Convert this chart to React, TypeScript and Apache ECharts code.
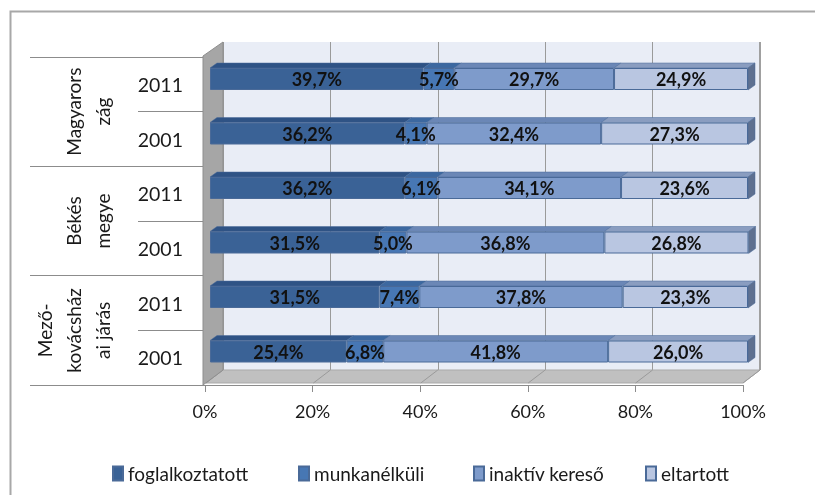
import React, { useEffect, useRef } from "react";
import * as echarts from "echarts";

const groups = ["Magyarország", "Békés megye", "Mezőkovácsházai járás"];
const groupLabels = ["Magyarors\nzág", "Békés\nmegye", "Mező-\nkovácsház\nai járás"];
const rowKeys = [
  "Magyarország 2011",
  "Magyarország 2001",
  "Békés megye 2011",
  "Békés megye 2001",
  "Mezőkovácsházai járás 2011",
  "Mezőkovácsházai járás 2001",
];
const seriesNames = ["foglalkoztatott", "munkanélküli", "inaktív kereső", "eltartott"];
const foglalkoztatott = [39.7, 36.2, 36.2, 31.5, 31.5, 25.4];
const munkanelkuli = [5.7, 4.1, 6.1, 5.0, 7.4, 6.8];
const inaktivKereso = [29.7, 32.4, 34.1, 36.8, 37.8, 41.8];
const eltartott = [24.9, 27.3, 23.6, 26.8, 23.3, 26.0];
const xTicks = [0, 20, 40, 60, 80, 100];

const frontColors = ["#3a6296", "#4777b4", "#7e9bcb", "#b9c6e1"];
const topColors = ["#2f5385", "#3c68a0", "#6b87b6", "#8a9dc0"];
const sideColor = "#5e7090";
const FONT = "Lato, 'Liberation Sans', sans-serif";

export default function App() {
  const ref = useRef<HTMLDivElement>(null);
  useEffect(() => {
    if (!ref.current) return;
    const chart = echarts.init(ref.current, undefined, { renderer: "svg" });
    const all = [foglalkoztatott, munkanelkuli, inaktivKereso, eltartott];
    const faces: number[][] = [];
    rowKeys.forEach((_, r) => {
      let acc = 0;
      all.forEach((arr, k) => {
        faces.push([acc, acc + arr[r], r, k]);
        acc += arr[r];
      });
    });
    const fmt = (p: any) => Number(p.value).toFixed(1).replace(".", ",") + "%";

    const backL = 223, backR = 760, backT = 42, backB = 370;
    const frontL = 205, frontR = 743, frontB = 385;
    const floorLines = xTicks.map((t) => ({
      type: "line",
      z: 1,
      shape: {
        x1: backL + ((backR - backL) * t) / 100,
        y1: backB,
        x2: frontL + 1 + ((frontR - frontL - 1) * t) / 100,
        y2: frontB - 2,
      },
      style: { stroke: "#9a9a9a", lineWidth: 1 },
    }));

    chart.setOption({
      animation: false,
      textStyle: { fontFamily: FONT },
      graphic: [
        {
          type: "rect",
          z: 0,
          shape: { x: 10.5, y: 11.5, width: 900, height: 600 },
          style: { fill: "none", stroke: "#a8a8a8", lineWidth: 2 },
        },
        {
          type: "polygon",
          z: 1,
          shape: { points: [[backL, backB], [backR, backB], [frontR, frontB - 2], [frontL + 1, frontB - 2]] },
          style: { fill: "#c0c0c0", stroke: "#a9a9a9", lineWidth: 1 },
        },
        ...floorLines,
        {
          type: "polygon",
          z: 1,
          shape: { points: [[203, 56], [backL, backT], [backL, backB], [203, frontB]] },
          style: { fill: "#a6a6a6", stroke: "#8e8e8e", lineWidth: 1 },
        },
        {
          type: "line",
          z: 1,
          shape: { x1: backR, y1: backT, x2: backR, y2: backB },
          style: { stroke: "#a0a0a0", lineWidth: 2 },
        },
      ],
      legend: seriesNames.map((n, i) => ({
        data: [n],
        left: [107, 293, 468, 640][i],
        top: 459,
        itemWidth: 10,
        itemHeight: 14,
        icon: "rect",
        textStyle: { fontSize: 19, color: "#1a1a1a", fontFamily: FONT },
        selectedMode: false,
      })),
      grid: [
        { left: 210, right: 67, top: 51.75, bottom: 116.25 },
        { left: backL, right: 815 - backR, top: backT, bottom: 495 - backB, show: true, backgroundColor: "#e9edf6", borderWidth: 0 },
        { left: frontL, right: 815 - frontR, top: 57, bottom: 495 - frontB },
      ],
      xAxis: [
        { type: "value", gridIndex: 0, min: 0, max: 100, interval: 20, show: false },
        {
          type: "value",
          gridIndex: 1,
          min: 0,
          max: 100,
          interval: 20,
          axisLine: { show: false },
          axisTick: { show: false },
          axisLabel: { show: false },
          splitLine: { show: true, lineStyle: { color: "#9a9a9a", width: 1 } },
        },
        {
          type: "value",
          gridIndex: 2,
          min: 0,
          max: 100,
          interval: 20,
          axisLine: { show: true, lineStyle: { color: "#8c8c8c" } },
          axisTick: { show: true, length: 7, lineStyle: { color: "#8c8c8c" } },
          axisLabel: { formatter: "{value}%", margin: 17, fontSize: 18, color: "#1a1a1a", fontFamily: FONT },
          splitLine: { show: false },
        },
      ],
      yAxis: [
        { type: "category", gridIndex: 0, inverse: true, data: rowKeys, show: false },
        { type: "category", gridIndex: 1, inverse: true, data: rowKeys, show: false },
        {
          type: "category",
          gridIndex: 2,
          inverse: true,
          data: rowKeys,
          position: "left",
          axisLine: { show: false },
          axisTick: { show: true, length: 67, interval: 0, lineStyle: { color: "#8c8c8c" } },
          axisLabel: {
            interval: 0,
            margin: 22,
            fontSize: 19.5,
            color: "#1a1a1a",
            fontFamily: FONT,
            formatter: (v: string) => v.split(" ").pop(),
          },
        },
        {
          type: "category",
          gridIndex: 2,
          inverse: true,
          data: groups,
          position: "left",
          offset: 0,
          axisLine: { show: false },
          axisTick: { show: true, length: 175, interval: 0, lineStyle: { color: "#8c8c8c" } },
          axisLabel: {
            interval: 0,
            rotate: 90,
            align: "center",
            verticalAlign: "bottom",
            margin: 88,
            lineHeight: 29,
            fontSize: 19,
            color: "#1a1a1a",
            fontFamily: FONT,
            formatter: (_v: string, i: number) => groupLabels[i],
          },
        },
      ],
      series: [
        ...all.map((arr, k) => ({
          name: seriesNames[k],
          type: "bar",
          stack: "total",
          xAxisIndex: 0,
          yAxisIndex: 0,
          barWidth: 22,
          z: 3,
          data: arr,
          itemStyle: { color: frontColors[k], borderColor: "#4a6a98", borderWidth: 1 },
          label: {
            show: true,
            position: "inside",
            formatter: fmt,
            fontWeight: "bold",
            fontSize: 18,
            color: "#111",
            fontFamily: FONT,
          },
        })),
        {
          type: "custom",
          xAxisIndex: 0,
          yAxisIndex: 0,
          z: 4,
          silent: true,
          encode: { x: [0, 1], y: 2 },
          data: faces,
          renderItem: (_params: any, api: any) => {
            const s = api.value(0);
            const e = api.value(1);
            const r = api.value(2);
            const k = api.value(3);
            const a = api.coord([s, r]);
            const b = api.coord([e, r]);
            const h = 22;
            const dx = 7;
            const dy = 5;
            const top = a[1] - h / 2;
            const children: any[] = [
              {
                type: "polygon",
                shape: { points: [[a[0], top], [b[0], top], [b[0] + dx, top - dy], [a[0] + dx, top - dy]] },
                style: { fill: topColors[k], stroke: "#4a6a98", lineWidth: 0.5 },
              },
            ];
            if (k === 3) {
              children.push({
                type: "polygon",
                shape: { points: [[b[0], top], [b[0] + dx, top - dy], [b[0] + dx, top + h - dy], [b[0], top + h]] },
                style: { fill: sideColor, stroke: "#4a6a98", lineWidth: 0.5 },
              });
            }
            return { type: "group", children };
          },
        },
      ],
    });
    return () => chart.dispose();
  }, []);
  return <div ref={ref} style={{ position: "fixed", left: 0, top: 0, width: 815, height: 495 }} />;
}
